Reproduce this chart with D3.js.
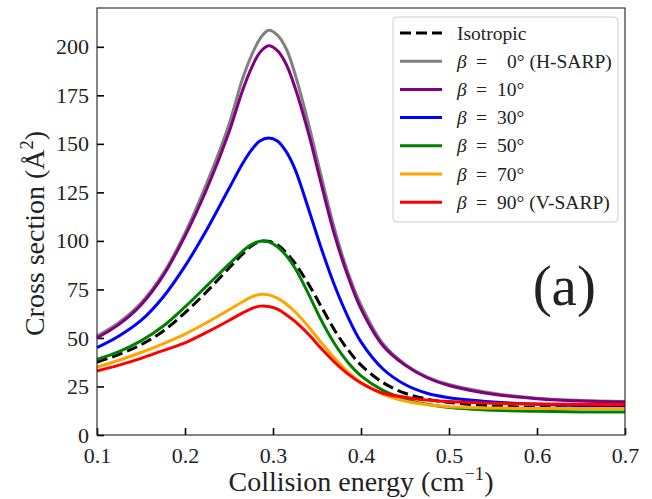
<!DOCTYPE html>
<html>
<head>
<meta charset="utf-8">
<script src="https://cdn.jsdelivr.net/npm/d3@7"></script>
<style>
  body { margin: 0; background: #fff; }
  svg text { font-family: "Liberation Serif", serif; fill: #222; }
</style>
</head>
<body>
<div id="vis"></div>
<script>
// collision energy grid (cm^-1)
const energy = [0.10, 0.125, 0.15, 0.175, 0.20, 0.225, 0.25, 0.265, 0.275, 0.285, 0.295, 0.305, 0.315, 0.325,
  0.34, 0.355, 0.37, 0.385, 0.40, 0.425, 0.45, 0.475, 0.50, 0.55, 0.60, 0.65, 0.70];

const isotropic = [37.5, 41.5, 46.5, 53.5, 63, 74, 86, 93, 97.2, 99.7, 99.8, 98, 94, 88.5,
  78, 66, 54, 44, 36, 27, 21.5, 18.5, 16.8, 15, 14.2, 13.8, 13.6];
const beta0 = [51, 58, 68, 83, 104, 130, 160, 183, 195, 204, 208.5, 206, 199, 186,
  161, 133, 106, 84, 67, 47, 36.5, 30, 26, 21.5, 19, 17.8, 17.2];
const beta10 = [50, 57, 67, 82, 102.5, 127, 156, 177, 188.5, 197, 200.5, 198, 191, 179,
  156, 129, 103, 82, 65, 46, 36, 29.5, 25.5, 21, 18.7, 17.5, 17];
const beta30 = [45, 51, 59, 71, 87, 106, 127, 139.5, 146.5, 151.5, 153, 151.5, 146, 137,
  117, 96, 77, 61, 48, 34, 26, 21.5, 19.2, 17, 15.8, 15.2, 15];
const beta50 = [39, 43, 48.5, 56, 66, 77, 88, 94.5, 98, 99.8, 99.5, 97, 92.5, 86,
  73, 59, 47, 37.5, 30.5, 23, 18.5, 15.8, 14.2, 12.8, 12.2, 11.9, 11.8];
const beta70 = [35, 38.5, 42.5, 47, 52, 58, 64.5, 68.5, 71, 72.4, 72.2, 70.5, 67.5, 63.5,
  56, 47.5, 39.5, 32.5, 27, 21, 17.5, 15.6, 14.6, 13.9, 13.7, 13.7, 13.7];
const beta90 = [33, 36, 39.5, 43.5, 47.5, 53, 59, 62.8, 65, 66.4, 66.2, 64.8, 62, 58.5,
  52, 44.5, 37.5, 31.5, 26.8, 21.5, 19.5, 18, 17.2, 16.3, 16, 15.8, 15.7];

const seriesNames = ["Isotropic", "0", "10", "30", "50", "70", "90"];
const seriesValues = [isotropic, beta0, beta10, beta30, beta50, beta70, beta90];
const seriesColors = ["#000000", "#808080", "#800080", "#0000ff", "#008000", "#ffa500", "#ff0000"];

const xTicks = [0.1, 0.2, 0.3, 0.4, 0.5, 0.6, 0.7];
const yTicks = [0, 25, 50, 75, 100, 125, 150, 175, 200];

const margin = { top: 8, right: 27, bottom: 64, left: 97 };
const width = 652 - margin.left - margin.right;
const height = 499 - margin.top - margin.bottom;

const svg = d3.select("#vis")
  .append("svg")
  .attr("width", 652)
  .attr("height", 499)
  .append("g")
  .attr("transform", `translate(${margin.left},${margin.top})`);

const x = d3.scaleLinear().domain([0.1, 0.7]).range([0, width]);
const y = d3.scaleLinear().domain([0, 220]).range([height, 0]);

// axes, ticks pointing inward
const xAxis = svg.append("g")
  .attr("transform", `translate(0,${height})`)
  .call(d3.axisBottom(x).tickValues(xTicks).tickSize(-7).tickPadding(12).tickFormat(d3.format(".1f")));
const yAxis = svg.append("g")
  .call(d3.axisLeft(y).tickValues(yTicks).tickSize(-7).tickPadding(8));

[xAxis, yAxis].forEach(a => {
  a.select(".domain").remove();
  a.selectAll("line").attr("stroke", "#000").attr("stroke-width", 1.6);
  a.selectAll("text")
    .attr("font-size", 22)
    .attr("fill", "#222");
});

const line = d3.line()
  .x((d, i) => x(energy[i]))
  .y(d => y(d))
  .curve(d3.curveCatmullRom.alpha(0.5));

seriesValues.forEach((vals, k) => {
  svg.append("path")
    .datum(vals)
    .attr("d", line)
    .attr("fill", "none")
    .attr("stroke", seriesColors[k])
    .attr("stroke-width", 3)
    .attr("stroke-dasharray", k === 0 ? "11,5" : null);
});

// frame
svg.append("rect")
  .attr("width", width)
  .attr("height", height)
  .attr("fill", "none")
  .attr("stroke", "#222")
  .attr("stroke-width", 1.1);

// axis labels
const xl = svg.append("text")
  .attr("x", width / 2)
  .attr("y", height + 56)
  .attr("text-anchor", "middle")
  .attr("font-size", 28);
xl.append("tspan").text("Collision energy (cm");
xl.append("tspan").attr("font-size", 18.5).attr("dy", -11).text("\u22121");
xl.append("tspan").attr("dy", 11).text(")");

const yl = svg.append("text")
  .attr("transform", `translate(-53,${height / 2 + 12}) rotate(-90)`)
  .attr("text-anchor", "middle")
  .attr("font-size", 28);
yl.append("tspan").text("Cross section (\u00c5");
yl.append("tspan").attr("font-size", 18.5).attr("dy", -11).text("2");
yl.append("tspan").attr("dy", 11).text(")");

svg.append("text")
  .attr("x", x(0.631))
  .attr("y", y(67))
  .attr("text-anchor", "middle")
  .attr("font-size", 57)
  .text("(a)");

// legend
const legend = svg.append("g").attr("transform", `translate(${296},${9})`);
legend.append("rect")
  .attr("width", 225)
  .attr("height", 205)
  .attr("rx", 4)
  .attr("fill", "#fff")
  .attr("fill-opacity", 0.8)
  .attr("stroke", "#ccc");

seriesNames.forEach((name, k) => {
  const ry = 16 + k * 28.2;
  legend.append("line")
    .attr("x1", 7).attr("x2", 49)
    .attr("y1", ry).attr("y2", ry)
    .attr("stroke", seriesColors[k])
    .attr("stroke-width", 3)
    .attr("stroke-dasharray", k === 0 ? "11,5" : null);
  const t = legend.append("text")
    .attr("y", ry + 6.5)
    .attr("font-size", 19.5);
  if (k === 0) {
    t.attr("x", 64).text(name);
  } else {
    t.append("tspan").attr("x", 64).attr("font-style", "italic").text("\u03b2");
    t.append("tspan").attr("x", 83).text("=");
    if (name === "0") t.append("tspan").attr("x", 114).text("0\u00b0 (H-SARP)");
    else if (name === "90") t.append("tspan").attr("x", 104).text("90\u00b0 (V-SARP)");
    else t.append("tspan").attr("x", 104).text(name + "\u00b0");
  }
});
</script>
</body>
</html>
